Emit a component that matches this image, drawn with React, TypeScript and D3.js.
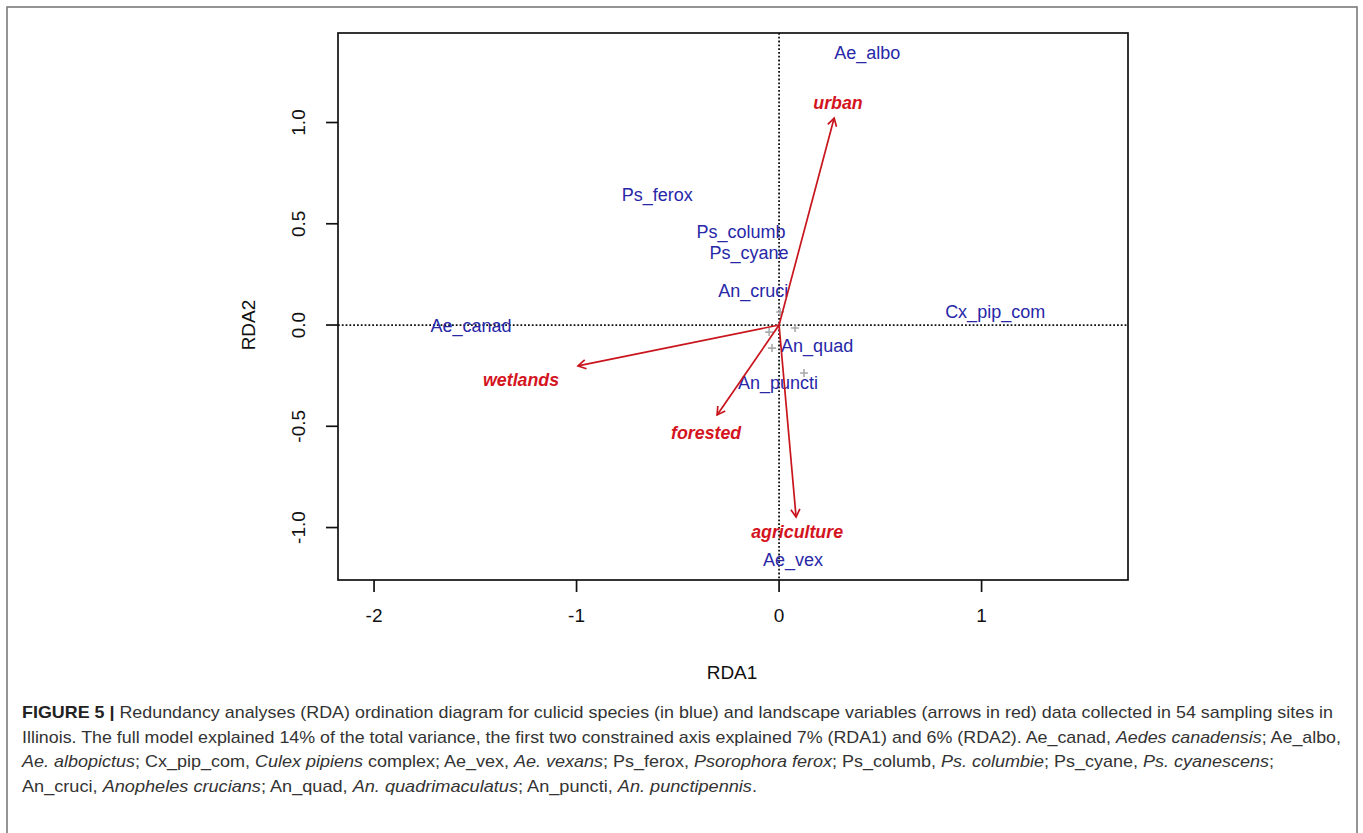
import React from 'react';
import * as d3 from 'd3';

// species scores (RDA1, RDA2) — label positions
const speciesNames = ['Ae_canad', 'Ae_albo', 'Cx_pip_com', 'Ae_vex', 'Ps_ferox', 'Ps_columb', 'Ps_cyane', 'An_cruci', 'An_quad', 'An_puncti'];
const speciesX = [-1.521, 0.435, 1.067, 0.069, -0.602, -0.188, -0.148, -0.128, 0.188, -0.005];
const speciesY = [0.0, 1.348, 0.069, -1.16, 0.642, 0.464, 0.356, 0.168, -0.099, -0.286];

// small grey crosses near the origin
const crossX = [0.005, 0.079, -0.049, -0.035, 0.123];
const crossY = [0.064, -0.015, -0.035, -0.114, -0.237];

// environmental arrows
const envNames = ['urban', 'wetlands', 'forested', 'agriculture'];
const envX = [0.272, -0.993, -0.306, 0.084];
const envY = [1.022, -0.202, -0.444, -0.948];
const envLabelX = [0.291, -1.274, -0.36, 0.089];
const envLabelY = [1.096, -0.267, -0.533, -1.022];

const xTicks = [-2, -1, 0, 1];
const yTicks = [-1.0, -0.5, 0.0, 0.5, 1.0];

// caption, split in lines; [text, style] pieces
const captionLines: [string, string][][] = [
  [['FIGURE 5 | ', 'b'], ['Redundancy analyses (RDA) ordination diagram for culicid species (in blue) and landscape variables (arrows in red) data collected in 54 sampling sites in', 'n']],
  [['Illinois. The full model explained 14% of the total variance, the first two constrained axis explained 7% (RDA1) and 6% (RDA2). Ae_canad, ', 'n'], ['Aedes canadensis', 'i'], ['; Ae_albo,', 'n']],
  [['Ae. albopictus', 'i'], ['; Cx_pip_com, ', 'n'], ['Culex pipiens', 'i'], [' complex; Ae_vex, ', 'n'], ['Ae. vexans', 'i'], ['; Ps_ferox, ', 'n'], ['Psorophora ferox', 'i'], ['; Ps_columb, ', 'n'], ['Ps. columbie', 'i'], ['; Ps_cyane, ', 'n'], ['Ps. cyanescens', 'i'], [';', 'n']],
  [['An_cruci, ', 'n'], ['Anopheles crucians', 'i'], ['; An_quad, ', 'n'], ['An. quadrimaculatus', 'i'], ['; An_puncti, ', 'n'], ['An. punctipennis', 'i'], ['.', 'n']],
];
const captionWidths = [1311, 1319, 1252, 735];

const W = 1363;
const H = 833;
const plotFont = '"Liberation Sans", Arial, Helvetica, sans-serif';
const capFont = '"Liberation Sans Narrow", "Liberation Sans", Arial, sans-serif';

const fmtX = (t: number) => d3.format('d')(t).replace('\u2212', '-');
const fmtY = (t: number) => d3.format('.1f')(t).replace('\u2212', '-');

export default function App() {
  const x = d3.scaleLinear().domain([-2.178, 1.723]).range([338, 1128]);
  const y = d3.scaleLinear().domain([-1.259, 1.442]).range([580, 33]);
  const [x0, x1] = x.range();
  const [y0, y1] = y.range();

  const arrowHead = (i: number) => {
    const tx = x(envX[i]);
    const ty = y(envY[i]);
    const ang = Math.atan2(ty - y(0), tx - x(0));
    const len = 9;
    const a1 = ang + Math.PI - Math.PI / 6;
    const a2 = ang + Math.PI + Math.PI / 6;
    return `M${tx + len * Math.cos(a1)},${ty + len * Math.sin(a1)}L${tx},${ty}L${tx + len * Math.cos(a2)},${ty + len * Math.sin(a2)}`;
  };

  return (
    <div style={{ position: 'absolute', left: 0, top: 0, width: W, height: H, background: '#fff' }}>
      <svg width={W} height={H} style={{ display: 'block' }}>
        <rect x={7} y={7} width={1350} height={860} fill="none" stroke="#7a7a7a" strokeWidth={1.6} />

        {/* dotted zero lines */}
        <line x1={x0} x2={x1} y1={y(0)} y2={y(0)} stroke="#111" strokeWidth={1.8} strokeDasharray="1.8,2" />
        <line x1={x(0)} x2={x(0)} y1={y1} y2={y0} stroke="#111" strokeWidth={1.8} strokeDasharray="1.8,2" />

        {/* grey crosses */}
        {crossX.map((cx, i) => (
          <path key={i} d={`M${x(cx) - 4},${y(crossY[i])}h8M${x(cx)},${y(crossY[i]) - 4}v8`} stroke="#aaa" strokeWidth={1.6} />
        ))}

        {/* species labels */}
        {speciesNames.map((s, i) => (
          <text key={s} x={x(speciesX[i])} y={y(speciesY[i])} dy="0.36em" textAnchor="middle"
            fontFamily={plotFont} fontSize={18} fill="#2727a8">{s}</text>
        ))}

        {/* arrows */}
        {envNames.map((e, i) => (
          <g key={e} stroke="#c8141c" strokeWidth={1.7} fill="none">
            <line x1={x(0)} y1={y(0)} x2={x(envX[i])} y2={y(envY[i])} />
            <path d={arrowHead(i)} />
          </g>
        ))}
        {envNames.map((e, i) => (
          <text key={e} x={x(envLabelX[i])} y={y(envLabelY[i])} dy="0.36em" textAnchor="middle"
            fontFamily={plotFont} fontSize={17.8} fontWeight="bold" fontStyle="italic" fill="#d4141e">{e}</text>
        ))}

        {/* box */}
        <rect x={x0} y={y1} width={x1 - x0} height={y0 - y1} fill="none" stroke="#111" strokeWidth={1.7} />

        {/* x axis */}
        {xTicks.map(t => (
          <g key={t}>
            <line x1={x(t)} x2={x(t)} y1={y0} y2={y0 + 12} stroke="#111" strokeWidth={1.7} />
            <text x={x(t)} y={y0 + 42} textAnchor="middle" fontFamily={plotFont} fontSize={19} fill="#111">{fmtX(t)}</text>
          </g>
        ))}
        <text x={732} y={679} textAnchor="middle" fontFamily={plotFont} fontSize={19} fill="#111">RDA1</text>

        {/* y axis */}
        {yTicks.map(t => (
          <g key={t}>
            <line x1={x0 - 12} x2={x0} y1={y(t)} y2={y(t)} stroke="#111" strokeWidth={1.7} />
            <text transform={`translate(${x0 - 33},${y(t)}) rotate(-90)`} textAnchor="middle" fontFamily={plotFont} fontSize={19} fill="#111">{fmtY(t)}</text>
          </g>
        ))}
        <text transform={`translate(${255},${y(0)}) rotate(-90)`} textAnchor="middle" fontFamily={plotFont} fontSize={19} fill="#111">RDA2</text>

        {/* caption */}
        {captionLines.map((line, li) => (
          <text key={li} x={22} y={718 + li * 24.6} fontFamily={capFont} fontSize={17} fill="#333"
            textLength={captionWidths[li]} lengthAdjust="spacingAndGlyphs">
            {line.map(([t, st], k) => (
              <tspan key={k} fontWeight={st === 'b' ? 'bold' : 'normal'} fontStyle={st === 'i' ? 'italic' : 'normal'}
                fill={st === 'b' ? '#222' : '#333'}>{t}</tspan>
            ))}
          </text>
        ))}
      </svg>
    </div>
  );
}
